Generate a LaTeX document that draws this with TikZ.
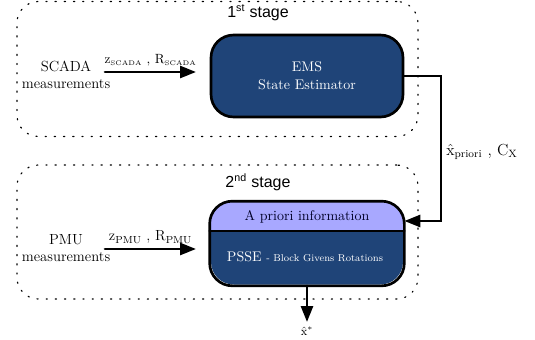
\documentclass[tikz,border=0pt]{standalone}
\usepackage{fontspec}
\newfontfamily\stagefont{Liberation Sans}
\usetikzlibrary{arrows.meta,positioning}
\definecolor{emsblue}{RGB}{31,68,120}
\definecolor{prioriblue}{RGB}{168,168,255}

\begin{document}
\begin{tikzpicture}[x=0.75pt,y=-0.75pt,line cap=round,line join=round,>={Triangle[length=12pt,width=9pt]},
    frame/.style={draw,dash pattern=on 0.9pt off 6pt,line width=0.9pt,rounded corners=16pt},
    estimator/.style={line width=2pt,rounded corners=17pt,minimum width=144pt,minimum height=61.5pt,
      align=center,font=\fontsize{10.5}{13.5}\selectfont},
    flow/.style={->,line width=2pt},
    stagename/.style={font=\stagefont\fontsize{12}{14}\selectfont},
    source/.style={align=center,font=\fontsize{11}{13}\selectfont}]
  \useasboundingbox (0,0) rectangle (535,339);
  % dotted frames of the two stages
  \node[frame,minimum width=300.75pt,minimum height=101.25pt] (stageA) at (217.5,69) {};
  \node[frame,minimum width=300.75pt,minimum height=100.5pt] (stageB) at (217.5,232) {};
  \node[stagename] (stageAname) at (258,13) {1\textsuperscript{st} stage};
  \node[stagename] (stageBname) at (258,182) {2\textsuperscript{nd} stage};
  % first stage
  \node[estimator,draw,fill=emsblue,text=white] (ems) at (307,76) {EMS\\State Estimator};
  \node[source] (scada) at (66,75) {SCADA\\measurements};
  \coordinate (scadatail) at (105,72);
  \coordinate (scadahead) at (196,72);
  \draw[flow] (scadatail) -- node[above,font=\fontsize{10}{12}\selectfont] (scadadata)
    {$\mathrm{z}_{\scriptscriptstyle\mathrm{SCADA}}$ , $\mathrm{R}_{\scriptscriptstyle\mathrm{SCADA}}$} (scadahead);
  % second stage
  \node[estimator,fill=emsblue] (psse) at (307,243.5) {};
  \coordinate (split) at (307,231);
  \begin{scope}
    \clip[rounded corners=17pt] (psse.north west) rectangle (psse.south east);
    \fill[prioriblue] (psse.north west) rectangle (psse.east |- split);
  \end{scope}
  \draw[line width=2pt] (psse.west |- split) -- (psse.east |- split);
  \draw[line width=2pt,rounded corners=17pt] (psse.north west) rectangle (psse.south east);
  \node[font=\fontsize{10.5}{13}\selectfont,text=black!85!blue] (priori) at (307,217) {A priori information};
  \node[font=\fontsize{10.5}{13}\selectfont,text=white] (psselabel) at (305,257)
    {PSSE {\fontsize{7.5}{9}\selectfont - Block Givens Rotations}};
  \node[source] (pmu) at (66,248) {PMU\\measurements};
  \coordinate (pmutail) at (105,249);
  \coordinate (pmuhead) at (196,249);
  \draw[flow] (pmutail) -- node[above,inner sep=3pt,font=\fontsize{11}{13}\selectfont] (pmudata)
    {$\mathrm{z}_{\mathrm{PMU}}$ , $\mathrm{R}_{\mathrm{PMU}}$} (pmuhead);
  % a priori estimate handed down
  \coordinate (feedback) at (441,221);
  \draw[flow,line join=miter] (ems.east) -| (feedback) -- (psse.east |- feedback);
  \node[font=\fontsize{12}{14}\selectfont] (prior) at (482,152)
    {$\hat{\mathrm{x}}_{\mathrm{priori}}$ , $\mathrm{C}_{\mathrm{X}}$};
  % final estimate
  \coordinate (estimate) at (307,322);
  \draw[flow] (psse.south) -- (estimate);
  \node[font=\fontsize{9}{11}\selectfont] (xstar) at (307,331) {$\hat{\mathrm{x}}^{*}$};
\end{tikzpicture}
\end{document}
